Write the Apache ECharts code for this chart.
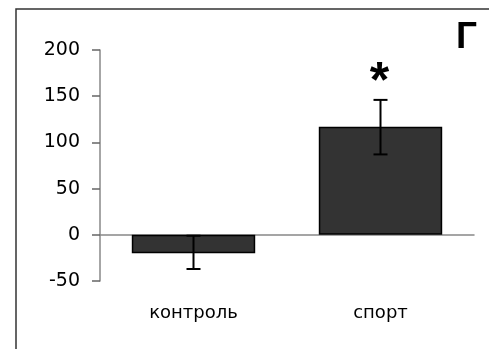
<!DOCTYPE html>
<html><head><meta charset="utf-8">
<script src="https://cdn.jsdelivr.net/npm/echarts@6/dist/echarts.min.js"></script>
<style>html,body{margin:0;padding:0;background:#fff}#c{width:489px;height:349px}</style>
</head><body><div id="c"></div>
<script>
const categories = ['контроль', 'спорт'];
const values = [-20, 117];
const errLow = [-37, 87];
const errHigh = [-1, 146];
const marks = ['', '*'];
const yTicks = [-50, 0, 50, 100, 150, 200];
const panelLabel = 'Г';

const chart = echarts.init(document.getElementById('c'), null, {renderer: 'canvas'});
const errData = categories.map((c, i) => [i, errLow[i], errHigh[i], marks[i]]);

chart.setOption({
  animation: false,
  backgroundColor: '#fff',
  title: {
    text: panelLabel, right: 7, top: 14,
    textStyle: {fontFamily: 'Liberation Sans', fontWeight: 'bold', fontSize: 37, color: '#000'}
  },
  graphic: [{
    type: 'rect', shape: {x: 16, y: 9, width: 520, height: 400},
    style: {fill: 'none', stroke: '#333', lineWidth: 1.5}, silent: true
  }],
  grid: {left: 100, right: 15, top: 50, bottom: 68},
  xAxis: [{
    type: 'category', data: categories, position: 'bottom',
    axisLine: {show: false, onZero: false}, axisTick: {show: false},
    axisLabel: {margin: 23, fontFamily: 'DejaVu Sans', fontSize: 18, color: '#000'}
  }, {
    type: 'category', data: categories,
    axisLine: {show: true, onZero: true, lineStyle: {color: '#888', width: 1.5}},
    axisTick: {show: false}, axisLabel: {show: false}
  }],
  yAxis: {
    type: 'value', min: yTicks[0], max: yTicks[yTicks.length - 1], interval: 50,
    splitLine: {show: false},
    axisLine: {show: true, lineStyle: {color: '#888', width: 1.5}},
    axisTick: {show: true, length: 8, lineStyle: {color: '#666', width: 1.5}},
    axisLabel: {margin: 20, fontFamily: 'DejaVu Sans', fontSize: 19, color: '#000'}
  },
  series: [{
    type: 'bar', data: values, barWidth: '66%',
    itemStyle: {color: '#333333', borderColor: '#000', borderWidth: 1.5}
  }, {
    type: 'custom', data: errData, z: 10,
    renderItem: function (params, api) {
      const x = api.value(0);
      const lo = api.coord([x, api.value(1)]);
      const hi = api.coord([x, api.value(2)]);
      const w = 7;
      const st = {stroke: '#000', lineWidth: 2};
      const children = [
        {type: 'line', shape: {x1: lo[0], y1: lo[1], x2: hi[0], y2: hi[1]}, style: st},
        {type: 'line', shape: {x1: lo[0] - w, y1: lo[1], x2: lo[0] + w, y2: lo[1]}, style: st},
        {type: 'line', shape: {x1: hi[0] - w, y1: hi[1], x2: hi[0] + w, y2: hi[1]}, style: st}
      ];
      const m = api.value(3);
      if (m) {
        children.push({type: 'text', style: {
          text: m, x: hi[0] - 1, y: hi[1] + 8, align: 'center', verticalAlign: 'bottom',
          font: 'bold 50px "Liberation Sans"', fill: '#000'
        }});
      }
      return {type: 'group', children: children};
    }
  }]
});
</script></body></html>
